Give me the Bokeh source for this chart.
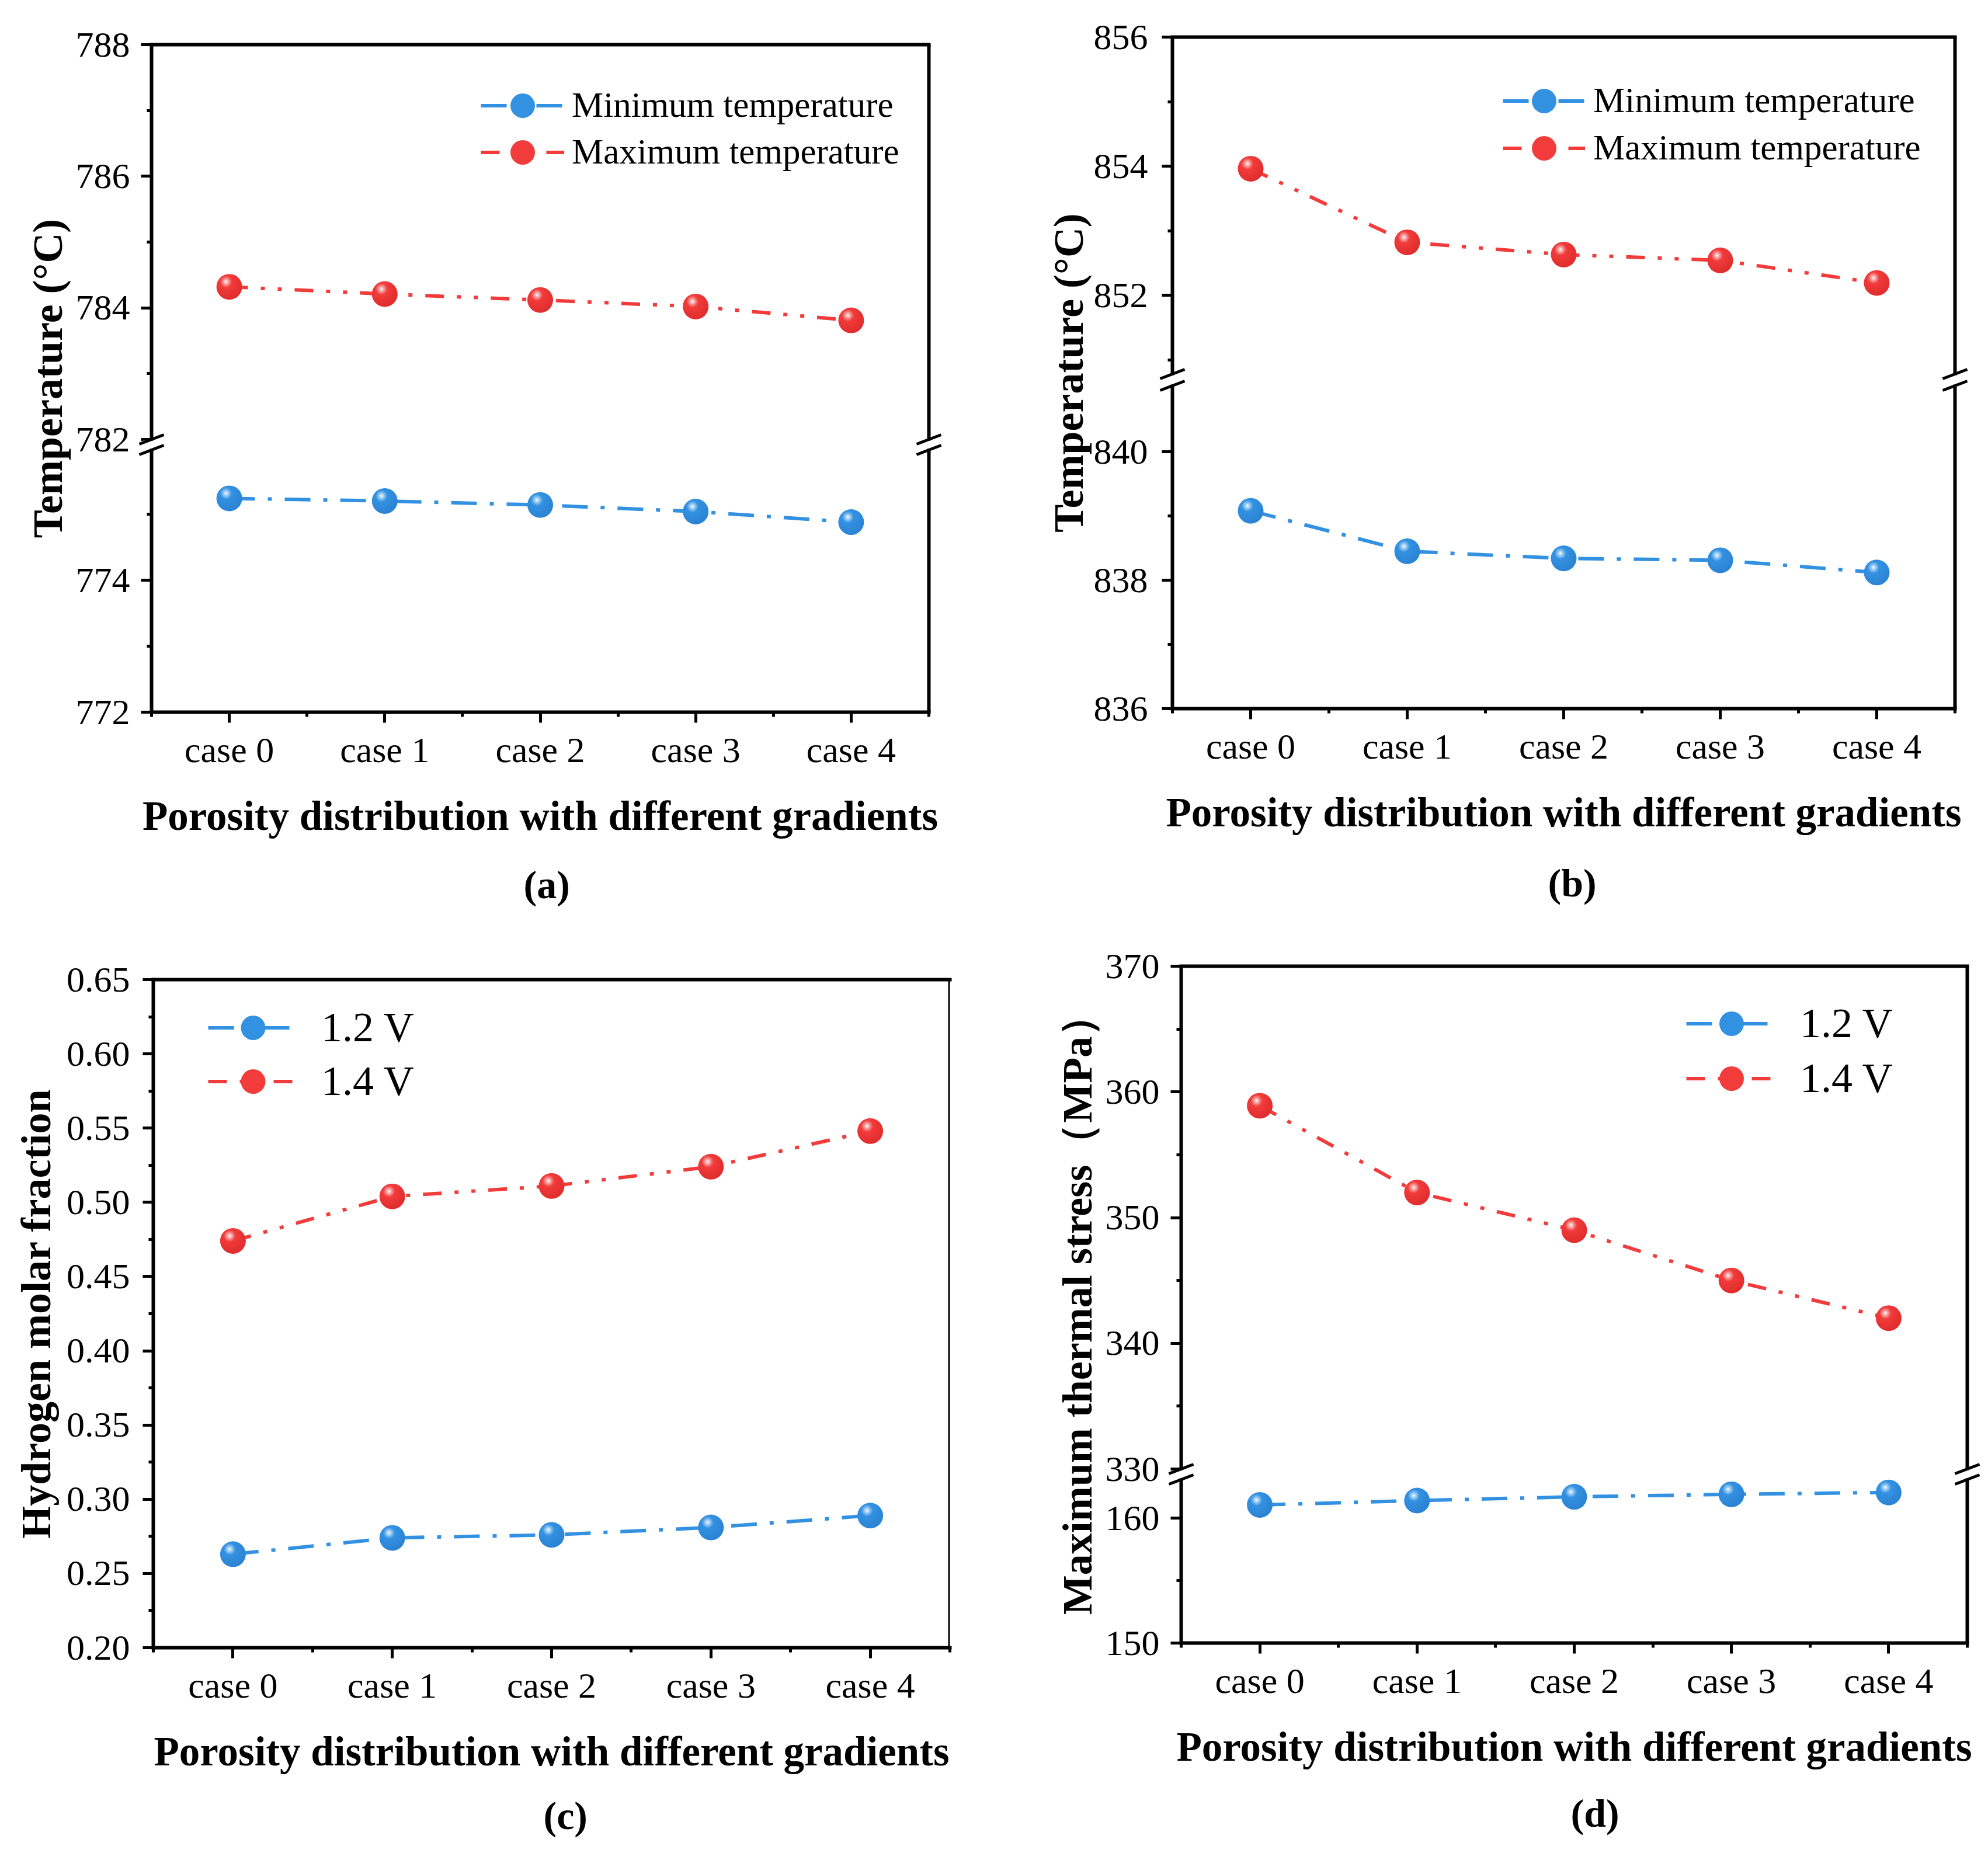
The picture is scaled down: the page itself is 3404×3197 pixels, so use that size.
import urllib.parse
from bokeh.plotting import figure
from bokeh.models import (Range1d, LinearAxis, FixedTicker, PrintfTickFormatter, Legend,
                          LegendItem, Arrow, BoxAnnotation, Grid, Title)
from bokeh.layouts import row, column
from bokeh.embed import file_html
from bokeh.resources import INLINE

# ---------------- data ----------------
CASES = ["case 0", "case 1", "case 2", "case 3", "case 4"]
X_TITLE = "Porosity distribution with different gradients"

A_MIN = [775.24, 775.20, 775.14, 775.04, 774.88]
A_MAX = [784.32, 784.21, 784.12, 784.02, 783.81]
B_MIN = [839.08, 838.45, 838.34, 838.31, 838.12]
B_MAX = [853.96, 852.82, 852.63, 852.54, 852.19]
C_12V = [0.263, 0.274, 0.276, 0.281, 0.289]
C_14V = [0.474, 0.504, 0.511, 0.524, 0.548]
D_12V = [161.05, 161.40, 161.70, 161.90, 162.05]
D_14V = [358.9, 352.0, 349.0, 345.0, 342.0]

A_UP_TICKS, A_UP_MINOR = [782, 784, 786, 788], [783, 785, 787]
A_LO_TICKS, A_LO_MINOR = [772, 774], [773, 775]
B_UP_TICKS, B_UP_MINOR = [852, 854, 856], [851, 853, 855]
B_LO_TICKS, B_LO_MINOR = [836, 838, 840], [837, 839]
C_TICKS = [0.20, 0.25, 0.30, 0.35, 0.40, 0.45, 0.50, 0.55, 0.60, 0.65]
C_MINOR = [0.225, 0.275, 0.325, 0.375, 0.425, 0.475, 0.525, 0.575, 0.625]
D_UP_TICKS, D_UP_MINOR = [330, 340, 350, 360, 370], [335, 345, 355, 365]
D_LO_TICKS, D_LO_MINOR = [150, 160], [155]

# ---------------- style ----------------
FONT = "Liberation Serif"
BLUE = "#3391e2"
RED = "#f23b3b"
BLUE_DASH = "44 22 7 22"
RED_DASH = "32 22 7 22 7 22"
LINE_W = 6
MARK = 44
N = len(CASES)
XS = list(range(N))


def sphere_url(base, light, dark):
    svg = ("<svg xmlns='http://www.w3.org/2000/svg' width='88' height='88' viewBox='0 0 88 88'>"
           "<defs><radialGradient id='g' cx='0.37' cy='0.30' r='0.78'>"
           "<stop offset='0' stop-color='#ffffff'/>"
           f"<stop offset='0.10' stop-color='{light}'/>"
           f"<stop offset='0.30' stop-color='{base}'/>"
           f"<stop offset='1' stop-color='{dark}'/>"
           "</radialGradient></defs>"
           "<circle cx='44' cy='44' r='43' fill='url(#g)'/></svg>")
    return "data:image/svg+xml;charset=utf-8," + urllib.parse.quote(svg)


BLUE_BALL = sphere_url(BLUE, "#a9d3f7", "#2a80cf")
RED_BALL = sphere_url(RED, "#f9b0b0", "#dc2a2a")


def style_ticks(ax, shift=0):
    ax.axis_line_width = LINE_W
    ax.axis_line_cap = "square"
    ax.major_tick_out = 18 - shift
    ax.major_tick_in = shift
    ax.major_tick_line_width = 5
    ax.minor_tick_out = 8 - shift
    ax.minor_tick_in = shift
    ax.minor_tick_line_width = 5
    ax.major_label_text_font = FONT
    ax.major_label_text_font_size = "62px"
    ax.major_label_text_color = "black"


def edge_axis(**kw):
    ax = LinearAxis(ticker=FixedTicker(ticks=[], minor_ticks=[]), **kw)
    ax.axis_line_width = LINE_W
    ax.axis_line_cap = "square"
    ax.major_tick_line_color = None
    ax.minor_tick_line_color = None
    ax.major_tick_out = 0
    ax.minor_tick_out = 0
    ax.major_label_standoff = 0
    ax.major_label_text_font_size = "0px"
    return ax


def draw_series(p, ys, color, dash, ball, rname="default"):
    ln = p.line(XS, ys, line_color=color, line_width=LINE_W, line_dash=dash, y_range_name=rname)
    sc = p.scatter(XS, ys, size=MARK, fill_color=color, line_color=None, y_range_name=rname)
    p.image_url(url=[ball] * N, x=XS, y=ys, w=MARK, h=MARK, w_units="screen", h_units="screen",
                anchor="center", y_range_name=rname)
    return [ln, sc]


def build(s):
    W, H = s["size"]
    bl, br, bt, bb = s["box"]
    m = s["m"]
    fl, fr = bl - m, br + m
    fh = bb - bt
    ppx = (br - bl) / N
    x_range = Range1d(-0.5 - m / ppx, N - 0.5 + m / ppx)
    broken = "top" in s
    if broken:
        top_val, ppy_up = s["top"]
        bot_val, ppy_lo = s["bot"]
        up_range = (top_val - fh / ppy_up, top_val)
        lo_range = (bot_val, bot_val + fh / ppy_lo)
    else:
        up_range = s["range"]

    p = figure(width=W, height=H, x_range=x_range, y_range=Range1d(*up_range),
               x_axis_location=None, y_axis_location=None, toolbar_location=None,
               output_backend="svg", min_border_left=fl, min_border_right=W - fr,
               min_border_top=bt, min_border_bottom=H - bb, outline_line_color=None)
    p.background_fill_color = "white"
    p.border_fill_color = "white"
    for r in list(p.center):
        if isinstance(r, Grid):
            r.visible = False

    ticks, minor, overrides = list(s["up_ticks"]), list(s["up_minor"]), {}
    if broken:
        p.extra_y_ranges = {"lo": Range1d(*lo_range)}

        def lo2up(v):
            return up_range[0] + (v - lo_range[0]) * (up_range[1] - up_range[0]) / (lo_range[1] - lo_range[0])
        ticks += [lo2up(v) for v in s["lo_ticks"]]
        minor += [lo2up(v) for v in s["lo_minor"]]
        overrides = {lo2up(v): str(v) for v in s["lo_ticks"]}

    # y axis with ticks, labels and the y title (drawn at the frame edge, ticks shifted in by m)
    yax = LinearAxis(ticker=FixedTicker(ticks=ticks, minor_ticks=minor),
                     formatter=PrintfTickFormatter(format=s["fmt"]),
                     major_label_overrides=overrides)
    style_ticks(yax, m)
    if m > 0:
        yax.axis_line_color = None
    yax.major_label_standoff = s["yso"]
    yax.axis_label = s["ytitle"]
    yax.axis_label_text_font = FONT
    yax.axis_label_text_font_size = "72px"
    yax.axis_label_text_font_style = "bold"
    yax.axis_label_text_color = "black"
    yax.axis_label_standoff = s["als"]
    p.add_layout(yax, "left")
    if m > 0:
        p.add_layout(edge_axis(fixed_location=-0.5), "left")
    p.add_layout(edge_axis(fixed_location=N - 0.5), "right")
    p.add_layout(edge_axis(bounds=(-0.5, N - 0.5)), "above")

    xax = LinearAxis(ticker=FixedTicker(ticks=XS, minor_ticks=[i - 0.5 for i in range(N + 1)]),
                     major_label_overrides={i: c for i, c in enumerate(CASES)},
                     bounds=(-0.5, N - 0.5))
    style_ticks(xax)
    xax.major_label_standoff = 12
    xax.axis_label = X_TITLE
    xax.axis_label_text_font = FONT
    xax.axis_label_text_font_size = "71px"
    xax.axis_label_text_font_style = "bold"
    xax.axis_label_text_color = "black"
    xax.axis_label_standoff = 37
    p.add_layout(xax, "below")

    # panel letter
    p.add_layout(Title(text=s["lab"], align="left", vertical_align="bottom", offset=s["loff"],
                       standoff=s["lso"], text_font=FONT, text_font_size="68px",
                       text_font_style="bold", text_color="black"), "below")

    rname_lo = "lo" if broken else "default"
    blue = draw_series(p, s["blue"], BLUE, BLUE_DASH, BLUE_BALL, rname_lo)
    red = draw_series(p, s["red"], RED, RED_DASH, RED_BALL)

    for (label, rends), (lx, ly) in zip(((s["labels"][0], blue), (s["labels"][1], red)), s["leg_pos"]):
        p.add_layout(Legend(items=[LegendItem(label=label, renderers=rends)], location=(lx, ly),
                            glyph_width=s["leg_gw"], glyph_height=105, label_height=105,
                            padding=0, margin=0, spacing=0, label_standoff=s["leg_so"],
                            label_text_font=FONT, label_text_font_size=s["leg_fs"],
                            label_text_color="black", border_line_color=None,
                            background_fill_alpha=0))

    if broken:
        s1, gap = s["s1"], s["gap"]

        def px2up(v):
            return up_range[1] - v / ppy_up
        dx, dy = 21 / ppx, 8 / ppy_up
        for xc in (-0.5, N - 0.5):
            p.add_layout(BoxAnnotation(left=xc - 14 / ppx, right=xc + 14 / ppx,
                                       top=px2up(s1 + 2), bottom=px2up(s1 + gap - 2),
                                       fill_color="white", fill_alpha=1.0, line_color=None))
            for yc in (px2up(s1), px2up(s1 + gap)):
                p.add_layout(Arrow(end=None, start=None, x_start=xc - dx, y_start=yc - dy,
                                   x_end=xc + dx, y_end=yc + dy, line_width=5,
                                   line_color="black"))
    return p


pa = build(dict(size=(1740, 1620), box=(259, 1590, 76, 1219), m=24,
                top=(788, 112.67), bot=(772, 113.0), s1=676, gap=18,
                up_ticks=A_UP_TICKS, up_minor=A_UP_MINOR, lo_ticks=A_LO_TICKS, lo_minor=A_LO_MINOR,
                fmt="%d", yso=19, als=5, ytitle="Temperature (°C)",
                blue=A_MIN, red=A_MAX, labels=("Minimum temperature", "Maximum temperature"),
                leg_pos=[(588, 986.5), (588, 906.5)], leg_gw=143, leg_so=13, leg_fs="61px",
                lab="(a)", lso=72, loff=661))

pb = build(dict(size=(1660, 1620), box=(267, 1607, 63, 1213), m=24,
                top=(856, 110.5), bot=(836, 110.0), s1=577, gap=20,
                up_ticks=B_UP_TICKS, up_minor=B_UP_MINOR, lo_ticks=B_LO_TICKS, lo_minor=B_LO_MINOR,
                fmt="%d", yso=24, als=0, ytitle="Temperature (°C)",
                blue=B_MIN, red=B_MAX, labels=("Minimum temperature", "Maximum temperature"),
                leg_pos=[(590, 988.5), (590, 907.5)], leg_gw=141, leg_so=14, leg_fs="61px",
                lab="(b)", lso=78, loff=667))

pc = build(dict(size=(1740, 1576), box=(262, 1626, 57, 1201), m=0, range=(0.20, 0.65),
                up_ticks=C_TICKS, up_minor=C_MINOR, lo_ticks=[], lo_minor=[],
                fmt="%.2f", yso=22, als=9, ytitle="Hydrogen molar fraction",
                blue=C_12V, red=C_14V, labels=("1.2 V", "1.4 V"),
                leg_pos=[(94, 1009.5), (94, 917.5)], leg_gw=154, leg_so=40, leg_fs="72px",
                lab="(c)", lso=57, loff=668))

pd_ = build(dict(size=(1660, 1576), box=(282, 1628, 34, 1193), m=24,
                 top=(370, 21.525), bot=(150, 21.4), s1=861, gap=18,
                 up_ticks=D_UP_TICKS, up_minor=D_UP_MINOR, lo_ticks=D_LO_TICKS, lo_minor=D_LO_MINOR,
                 fmt="%d", yso=19, als=5, ytitle="Maximum thermal stress（MPa）",
                 blue=D_12V, red=D_14V, labels=("1.2 V", "1.4 V"),
                 leg_pos=[(889, 1008.5), (889, 914.5)], leg_gw=155, leg_so=40, leg_fs="72px",
                 lab="(d)", lso=65, loff=691))

layout = column(row(column(pa), column(pb)), row(column(pc), column(pd_)))

with open("out.html", "w") as f:
    f.write(file_html(layout, INLINE))
